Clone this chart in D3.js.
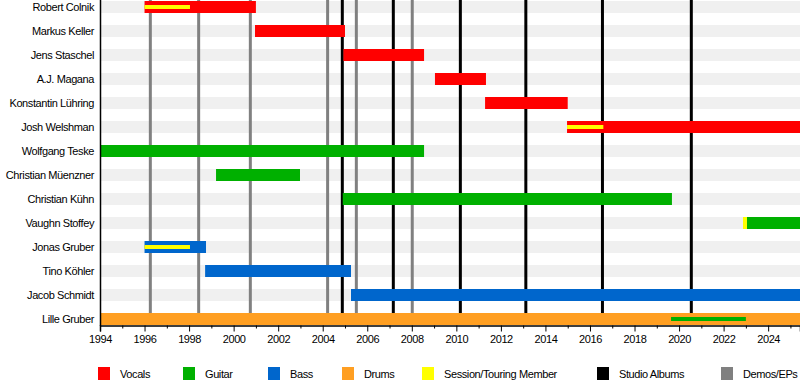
<!DOCTYPE html>
<html>
<head>
<meta charset="utf-8">
<script src="https://cdn.jsdelivr.net/npm/d3@7"></script>
<style>
  body { margin: 0; background: #fff; }
  svg text { font-family: "Liberation Sans", Arial, sans-serif; font-size: 11px; fill: #000; letter-spacing: -0.4px; }
</style>
</head>
<body>
<div id="chart"></div>
<script>
// band members, top to bottom
var members = ["Robert Colnik", "Markus Keller", "Jens Staschel", "A.J. Magana", "Konstantin Lühring",
  "Josh Welshman", "Wolfgang Teske", "Christian Müenzner", "Christian Kühn", "Vaughn Stoffey",
  "Jonas Gruber", "Tino Köhler", "Jacob Schmidt", "Lille Gruber"];

var endYear = 2025.43;

// [member, role, from, to]
var spans = [
  ["Robert Colnik", "Vocals", 1996.0, 2001.0],
  ["Markus Keller", "Vocals", 2000.96, 2005.0],
  ["Jens Staschel", "Vocals", 2004.93, 2008.55],
  ["A.J. Magana", "Vocals", 2009.04, 2011.33],
  ["Konstantin Lühring", "Vocals", 2011.29, 2015.0],
  ["Josh Welshman", "Vocals", 2014.97, endYear],
  ["Wolfgang Teske", "Guitar", 1994.0, 2008.55],
  ["Christian Müenzner", "Guitar", 1999.21, 2002.98],
  ["Christian Kühn", "Guitar", 2004.9, 2019.68],
  ["Vaughn Stoffey", "Session/Touring Member", 2022.87, 2023.05],
  ["Vaughn Stoffey", "Guitar", 2023.05, endYear],
  ["Jonas Gruber", "Bass", 1996.0, 1998.76],
  ["Tino Köhler", "Bass", 1998.72, 2005.27],
  ["Jacob Schmidt", "Bass", 2005.27, endYear],
  ["Lille Gruber", "Drums", 1994.0, endYear]
];

// thin overlay bars [member, role, from, to]
var overlays = [
  ["Robert Colnik", "Session/Touring Member", 1996.0, 1998.04],
  ["Josh Welshman", "Session/Touring Member", 2014.97, 2016.6],
  ["Jonas Gruber", "Session/Touring Member", 1996.0, 1998.04],
  ["Lille Gruber", "Guitar", 2019.64, 2023.0]
];

var studioAlbums = [2004.88, 2007.17, 2010.18, 2013.12, 2016.56, 2020.55];
var demosEPs = [1996.26, 1998.43, 2000.75, 2004.22, 2005.51, 2008.02];

var legendLabels = ["Vocals", "Guitar", "Bass", "Drums", "Session/Touring Member", "Studio Albums", "Demos/EPs"];
var legendColors = ["#ff0000", "#00b000", "#0066cc", "#ff9f22", "#ffff00", "#000000", "#808080"];

var color = d3.scaleOrdinal().domain(legendLabels).range(legendColors);

var W = 800, H = 385;
var svg = d3.select("#chart").append("svg").attr("width", W).attr("height", H);

var x = d3.scaleLinear().domain([1994, endYear]).range([100, 800]);
var y = d3.scaleBand().domain(members).range([-5, 331]).paddingInner(0.5).paddingOuter(0.25);

// row stripes
svg.selectAll(".stripe")
    .data(members)
  .enter().append("rect")
    .attr("class", "stripe")
    .attr("x", 100).attr("width", 700)
    .attr("y", function(d) { return y(d); })
    .attr("height", y.bandwidth())
    .attr("fill", "#f0f0f0");

// release lines
function lines(arr, col) {
  svg.selectAll(null)
      .data(arr)
    .enter().append("line")
      .attr("x1", function(d) { return x(d); })
      .attr("x2", function(d) { return x(d); })
      .attr("y1", 0).attr("y2", 325)
      .attr("stroke", col)
      .attr("stroke-width", 3);
}
lines(demosEPs, "#808080");
lines(studioAlbums, "#000000");

// member bars
svg.selectAll(".bar")
    .data(spans)
  .enter().append("rect")
    .attr("class", "bar")
    .attr("x", function(d) { return x(d[2]); })
    .attr("width", function(d) { return x(d[3]) - x(d[2]); })
    .attr("y", function(d) { return y(d[0]); })
    .attr("height", y.bandwidth())
    .attr("fill", function(d) { return color(d[1]); });

svg.selectAll(".overlay")
    .data(overlays)
  .enter().append("rect")
    .attr("class", "overlay")
    .attr("x", function(d) { return x(d[2]); })
    .attr("width", function(d) { return x(d[3]) - x(d[2]); })
    .attr("y", function(d) { return y(d[0]) + y.bandwidth() / 2 - 2; })
    .attr("height", 4)
    .attr("fill", function(d) { return color(d[1]); });

// member names
svg.selectAll(".name")
    .data(members)
  .enter().append("text")
    .attr("class", "name")
    .attr("x", 94)
    .attr("y", function(d) { return y(d) + y.bandwidth() / 2; })
    .attr("dy", "0.35em")
    .attr("text-anchor", "end")
    .text(function(d) { return d; });

// axes
var majors = d3.range(1994, 2025, 2);
var minors = d3.range(1995, 2026, 2);

var gx = svg.append("g")
    .attr("transform", "translate(0,325.5)")
    .call(d3.axisBottom(x).tickValues(majors).tickFormat(d3.format("d")).tickSize(6).tickPadding(4));
gx.select(".domain").attr("stroke-width", 1.5);
gx.selectAll("text").style("font-family", "'Liberation Sans', Arial, sans-serif").style("font-size", "11px");

svg.append("g")
    .attr("transform", "translate(0,325.5)")
    .call(d3.axisBottom(x).tickValues(minors).tickFormat("").tickSize(3))
    .select(".domain").remove();

svg.append("line")
    .attr("x1", 100.5).attr("x2", 100.5)
    .attr("y1", 0).attr("y2", 326)
    .attr("stroke", "#000").attr("stroke-width", 1.5);

// legend
var legendX = [98, 183, 268, 342, 422, 597, 721];
var leg = svg.selectAll(".leg")
    .data(legendLabels)
  .enter().append("g")
    .attr("class", "leg")
    .attr("transform", function(d, i) { return "translate(" + legendX[i] + ",367)"; });
leg.append("rect")
    .attr("width", 12).attr("height", 13)
    .attr("fill", function(d) { return color(d); });
leg.append("text")
    .attr("x", 22).attr("y", 7)
    .attr("dy", "0.35em")
    .text(function(d) { return d; });
</script>
</body>
</html>
